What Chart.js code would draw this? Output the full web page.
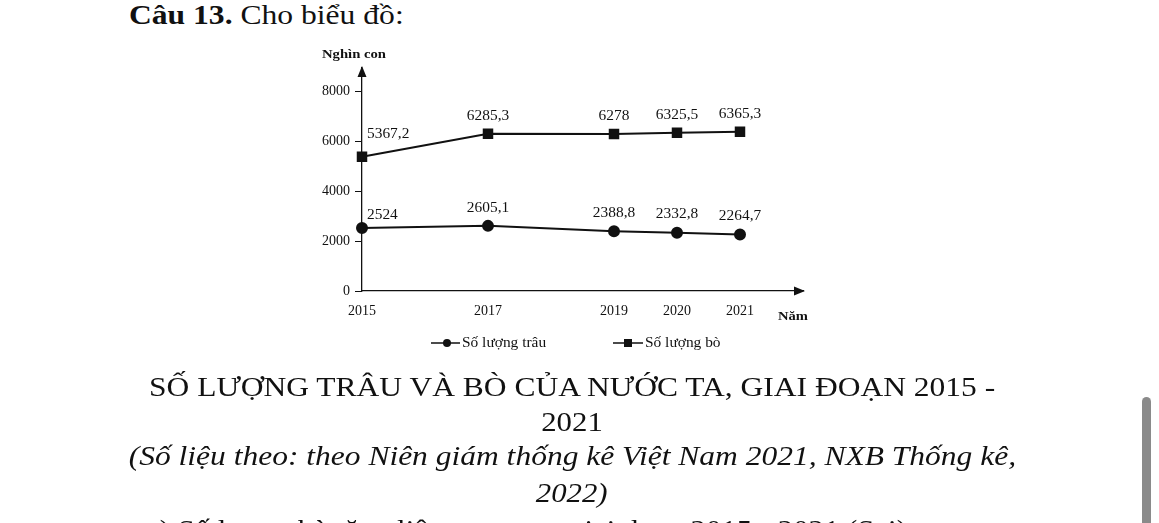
<!DOCTYPE html>
<html lang="vi">
<head>
<meta charset="utf-8">
<title>Số lượng trâu và bò</title>
<script src="https://cdn.jsdelivr.net/npm/chart.js@4.4.1/dist/chart.umd.min.js"></script>
<style>
    html, body { margin:0; padding:0; background:#fff; overflow:hidden; }
    body { width:1159px; height:523px; position:relative; font-family:"Liberation Serif","Times New Roman",serif; color:#111; }
    #khung { position:absolute; left:0; top:0; width:1159px; height:523px; }
    .dong { position:absolute; left:0; width:1144px; text-align:center; white-space:nowrap; line-height:1; font-size:28px; }
    .dong span { display:inline-block; transform:scaleX(1.1); }
    .dong span.rong { transform:scaleX(1.125); }
    #cau { position:absolute; left:129px; top:2px; font-size:27px; line-height:1; white-space:nowrap; transform:scaleX(1.17); transform-origin:left; }
    #cuoi { position:absolute; left:146px; top:516px; font-size:28px; line-height:1; white-space:nowrap; transform:scaleX(1.1); transform-origin:left; }
    #cuon { position:absolute; left:1142px; top:397px; width:9px; height:140px; background:#8a8a8a; border-radius:4.5px; }
</style>
</head>
<body>
<div id="cau"><b>Câu 13.</b> Cho biểu đồ:</div>
<div id="khung"><canvas id="graficaTrauBo"></canvas></div>
<div class="dong" style="top:373px"><span class="rong">SỐ LƯỢNG TRÂU VÀ BÒ CỦA NƯỚC TA, GIAI ĐOẠN 2015 -</span></div>
<div class="dong" style="top:408px"><span>2021</span></div>
<div class="dong" style="top:442px"><span class="rong"><i>(Số liệu theo: theo Niên giám thống kê Việt Nam 2021, NXB Thống kê,</i></span></div>
<div class="dong" style="top:479px"><span><i>2022)</i></span></div>
<div id="cuoi">c) Số lượng bò tăng liên tục trong giai đoạn 2015 - 2021 (Sai)</div>
<div id="cuon"></div>
<script>
// datos (nghin con)
var NAM = [2015, 2017, 2019, 2020, 2021];
var TRAU = [2524, 2605.1, 2388.8, 2332.8, 2264.7];
var BO = [5367.2, 6285.3, 6278, 6325.5, 6365.3];
var MOC_Y = [0, 2000, 4000, 6000, 8000];
var TEN_SERIES = ['Số lượng trâu', 'Số lượng bò'];

var FUENTE = '"Liberation Serif", "Times New Roman", serif';

function vietChu(ctx, txt, x, y, align, font, k) {
    ctx.save();
    ctx.font = font;
    ctx.translate(x, y);
    ctx.scale(k, 1);
    ctx.textAlign = align;
    ctx.textBaseline = 'middle';
    ctx.fillStyle = '#111';
    ctx.fillText(txt, 0, 0);
    ctx.restore();
}

function soVN(v) {
    return String(v).replace('.', ',');
}

// flechas de los ejes
var muiTen = {
    id: 'muiTen',
    afterDraw: function (chart) {
        var ctx = chart.ctx, a = chart.chartArea;
        ctx.save();
        ctx.fillStyle = '#111';
        ctx.beginPath();
        ctx.moveTo(a.left, a.top - 2);
        ctx.lineTo(a.left - 4.5, a.top + 9);
        ctx.lineTo(a.left + 4.5, a.top + 9);
        ctx.closePath();
        ctx.fill();
        ctx.beginPath();
        ctx.moveTo(a.right + 2, a.bottom);
        ctx.lineTo(a.right - 9, a.bottom - 4.5);
        ctx.lineTo(a.right - 9, a.bottom + 4.5);
        ctx.closePath();
        ctx.fill();
        ctx.restore();
    }
};

// etiquetas de valores, titulos de ejes y leyenda
var nhanChu = {
    id: 'nhanChu',
    afterDatasetsDraw: function (chart) {
        var ctx = chart.ctx, a = chart.chartArea;
        var fNhan = '14px ' + FUENTE;
        var series = [TRAU, BO];
        series.forEach(function (vals, d) {
            var pts = chart.getDatasetMeta(d).data;
            pts.forEach(function (p, i) {
                if (i === 0) {
                    vietChu(ctx, soVN(vals[i]), p.x + 5, p.y + (d === 0 ? -13 : -22), 'left', fNhan, 1.1);
                } else {
                    vietChu(ctx, soVN(vals[i]), p.x, p.y - 18, 'center', fNhan, 1.1);
                }
            });
        });
        vietChu(ctx, 'Nghìn con', a.left - 8, 55, 'center', 'bold 13px ' + FUENTE, 1.13);
        vietChu(ctx, 'Năm', a.right - 10, a.bottom + 26, 'center', 'bold 13px ' + FUENTE, 1.12);

        // leyenda
        var yL = 343;
        ctx.save();
        ctx.strokeStyle = '#111';
        ctx.fillStyle = '#111';
        ctx.lineWidth = 1.6;
        ctx.beginPath();
        ctx.moveTo(431, yL); ctx.lineTo(460, yL);
        ctx.moveTo(613, yL); ctx.lineTo(643, yL);
        ctx.stroke();
        ctx.beginPath();
        ctx.arc(447, yL, 4, 0, Math.PI * 2);
        ctx.fill();
        ctx.fillRect(624, yL - 4, 8, 8);
        ctx.restore();
        vietChu(ctx, TEN_SERIES[0], 462, yL, 'left', '14px ' + FUENTE, 1.1);
        vietChu(ctx, TEN_SERIES[1], 645, yL, 'left', '14px ' + FUENTE, 1.1);
    }
};

var datos = {
    type: 'line',
    data: {
        datasets: [{
            label: TEN_SERIES[0],
            data: NAM.map(function (n, i) { return { x: n, y: TRAU[i] }; }),
            borderColor: '#111',
            backgroundColor: '#111',
            borderWidth: 2,
            pointStyle: 'circle',
            pointRadius: 5,
            tension: 0,
            clip: false
        }, {
            label: TEN_SERIES[1],
            data: NAM.map(function (n, i) { return { x: n, y: BO[i] }; }),
            borderColor: '#111',
            backgroundColor: '#111',
            borderWidth: 2,
            pointStyle: 'rect',
            pointRadius: 6,
            tension: 0,
            clip: false
        }]
    },
    options: {
        responsive: true,
        maintainAspectRatio: false,
        animation: false,
        layout: { padding: { left: 300, right: 356, top: 68, bottom: 202 } },
        plugins: { legend: { display: false }, tooltip: { enabled: false } },
        scales: {
            x: {
                type: 'linear',
                min: 2015,
                max: 2022,
                afterBuildTicks: function (s) { s.ticks = NAM.map(function (v) { return { value: v }; }); },
                afterFit: function (s) { s.height = 30; },
                grid: { display: true, drawOnChartArea: false, drawTicks: false },
                border: { display: true, color: '#111', width: 1.3 },
                ticks: {
                    color: '#111',
                    padding: 12,
                    autoSkip: false,
                    maxRotation: 0,
                    font: { family: FUENTE, size: 14 },
                    callback: function (v) { return String(v); }
                }
            },
            y: {
                min: 0,
                max: 8920,
                afterBuildTicks: function (s) { s.ticks = MOC_Y.map(function (v) { return { value: v }; }); },
                afterFit: function (s) { s.width = 62; },
                grid: { display: true, drawOnChartArea: false, drawTicks: true, tickLength: 7, color: '#111' },
                border: { display: true, color: '#111', width: 1.3 },
                ticks: {
                    color: '#111',
                    padding: 5,
                    font: { family: FUENTE, size: 14 },
                    callback: function (v) { return String(v); }
                }
            }
        }
    },
    plugins: [muiTen, nhanChu]
};

var canvas = document.getElementById('graficaTrauBo').getContext('2d');
window.grafica = new Chart(canvas, datos);
</script>
</body>
</html>
